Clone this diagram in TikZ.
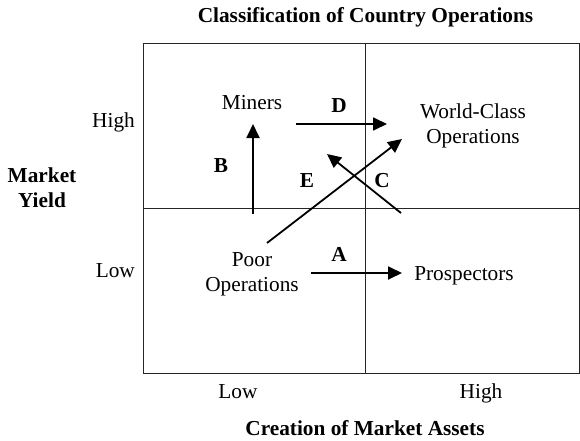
\documentclass[tikz,border=0pt]{standalone}
\usepackage{fontspec}
\setmainfont{Liberation Serif}
\usetikzlibrary{arrows.meta}
\begin{document}
\begin{tikzpicture}[x=1pt,y=-1pt,
  txt/.style={font=\fontsize{21.3}{25}\selectfont, align=center, inner sep=0pt, anchor=base},
  lbl/.style={font=\fontsize{21.3}{25}\selectfont\bfseries, align=center, inner sep=0pt, anchor=base},
  grid/.style={line width=0.9pt, black!85},
  move/.style={line width=1.8pt, -{Triangle[length=14pt,width=13pt]}}]
\useasboundingbox (0,0) rectangle (580,441);
% frame and dividers
\draw[grid] (143,43) rectangle (579,373);
\draw[grid] (365,43) -- (365,373);
\draw[grid] (143,208) -- (579,208);
% titles
\node[lbl] (title) at (365.5,23) {Classification of Country Operations};
\node[lbl] (xtitle) at (365,435) {Creation of Market Assets};
\node[lbl] (ytitle) at (42,207) {Market\\Yield};
\node[txt, anchor=base east] (yhigh) at (135,128) {High};
\node[txt, anchor=base east] (ylow) at (135,277) {Low};
\node[txt] (xlow) at (238,398) {Low};
\node[txt] (xhigh) at (481,398) {High};
% quadrant nodes
\node[txt] (miners) at (252,110) {Miners};
\node[txt] (world) at (473,143) {World-Class\\Operations};
\node[txt] (poor) at (252,291) {Poor\\Operations};
\node[txt] (prosp) at (464,280) {Prospectors};
% arrow labels
\node[lbl] (la) at (339,261) {A};
\node[lbl] (lb) at (221,172) {B};
\node[lbl] (lc) at (382,187) {C};
\node[lbl] (ld) at (339,113) {D};
\node[lbl] (le) at (307,187) {E};
% arrow end points
\coordinate (a1) at (311,273); \coordinate (a2) at (402,273);
\coordinate (b1) at (253,214); \coordinate (b2) at (253,124);
\coordinate (c1) at (401,213); \coordinate (c2) at (327,154);
\coordinate (d1) at (296,124); \coordinate (d2) at (387,124);
\coordinate (e1) at (267,243); \coordinate (e2) at (402,139);
\draw[move] (a1) -- (a2);
\draw[move] (b1) -- (b2);
\draw[move] (c1) -- (c2);
\draw[move] (d1) -- (d2);
\draw[move] (e1) -- (e2);
\end{tikzpicture}
\end{document}
